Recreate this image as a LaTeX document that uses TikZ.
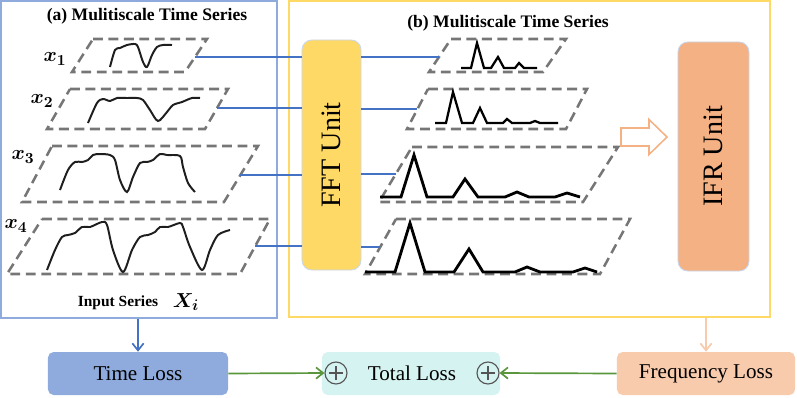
\documentclass[tikz,border=0pt]{standalone}
\usepackage{fontspec}
\setmainfont{Liberation Serif}
\usepackage{bm}
\usepackage{tikz}
\usetikzlibrary{arrows.meta, positioning}
\definecolor{cblue}{RGB}{68, 114, 196}
\definecolor{clightblue}{RGB}{143, 170, 220}
\definecolor{cyellow}{RGB}{255, 217, 102}
\definecolor{corange}{RGB}{244, 177, 131}
\definecolor{clightorange}{RGB}{248, 203, 173}
\definecolor{ccyan}{RGB}{213, 243, 240}
\definecolor{cgreen}{RGB}{90, 150, 60}
\definecolor{cgray}{RGB}{118, 118, 118}
\definecolor{cdark}{RGB}{85, 85, 85}
\definecolor{cedge}{RGB}{200, 215, 240}
\definecolor{ccurve}{RGB}{30, 30, 30}

\begin{document}
\begin{tikzpicture}[
  x=0.025cm, y=-0.025cm,
  frame/.style={rectangle, line width=1.4pt},
  title/.style={font=\fontsize{12.5}{14}\selectfont\bfseries},
  unit/.style={rectangle, rounded corners=7pt, draw=cedge, line width=0.6pt, font=\fontsize{20}{22}\selectfont},
  loss/.style={rectangle, rounded corners=4pt, minimum width=4.45cm, minimum height=1.075cm, font=\fontsize{15}{17}\selectfont},
  plane/.style={draw=cgray, line width=1.8pt, dash pattern=on 7pt off 4pt},
  series/.style={ccurve, line width=1.4pt},
  spec/.style={black, line width=1.6pt, line join=miter},
  xlabel/.style={font=\fontsize{15}{17}\selectfont},
  link/.style={cblue, line width=1pt},
  oplus/.style={circle, draw=cdark, line width=0.8pt, minimum size=0.55cm, inner sep=0pt,
    path picture={\draw[cdark, line width=0.8pt]
      ([xshift=-0.18cm]path picture bounding box.center) -- ([xshift=0.18cm]path picture bounding box.center)
      ([yshift=-0.18cm]path picture bounding box.center) -- ([yshift=0.18cm]path picture bounding box.center);}},
  arrow/.style={-{Straight Barb[length=5pt, width=8pt]}, line width=1.2pt},
]
\useasboundingbox (0,0) rectangle (797,397);

% ---- Frames ----
\node[frame, draw=clightblue, minimum width=6.9cm, minimum height=7.925cm] (lframe) at (139,159.5) {};
\node[frame, draw=cyellow, minimum width=12.025cm, minimum height=7.9cm] (rframe) at (529.5,159) {};

\node[title] (ltitle) at (147,16) {(a) Mulitiscale Time Series};
\node[title] (rtitle) at (508,23) {(b) Mulitiscale Time Series};

% ---- Input series (left) ----
\draw[plane] (93,39) -- (207,39) -- (185,72) -- (72,72) -- cycle;
\draw[plane] (70,89) -- (228,89) -- (205,129) -- (47,129) -- cycle;
\draw[plane] (52,146) -- (258,146) -- (224,202) -- (22,202) -- cycle;
\draw[plane] (42,219) -- (270,219) -- (240,274) -- (7,274) -- cycle;

\node[xlabel] (lab1) at (55,59) {$\bm{x_1}$};
\node[xlabel] (lab2) at (42,101) {$\bm{x_2}$};
\node[xlabel] (lab3) at (23,157) {$\bm{x_3}$};
\node[xlabel] (lab4) at (16,226) {$\bm{x_4}$};

\draw[series] plot[smooth, tension=0.5] coordinates {(110,67) (115,50) (120,48) (127,45) (135,44) (138,47)
  (143,62) (147,67) (152,55) (157,47) (163,45) (172,45)};
\draw[series] plot[smooth, tension=0.5] coordinates {(88,123) (97,103) (103,99) (110,101) (117,98) (127,98)
  (137,98) (143,100) (150,110) (158,121) (167,112) (173,105) (182,102) (192,98) (200,98)};
\draw[series] plot[smooth, tension=0.5] coordinates {(60,190) (68,170) (75,162) (82,162) (88,160) (93,155)
  (100,154) (110,155) (115,160) (120,180) (127,192) (133,177) (140,163) (147,162) (153,160) (160,154)
  (167,155) (180,156) (183,167) (188,183) (195,192)};
\draw[series] plot[smooth, tension=0.5] coordinates {(47,270) (55,250) (62,237) (68,235) (75,233) (82,227)
  (90,227) (102,222) (107,225) (113,250) (123,272) (132,250) (140,237) (148,235) (155,232) (160,227)
  (168,227) (180,223) (183,227) (190,247) (202,270) (210,250) (218,235) (230,230)};

\node[font=\fontsize{11}{13}\selectfont\bfseries] (inlabel) at (118,303) {Input Series};
\node[xlabel] (xi) at (186,302) {$\bm{X_i}$};

% ---- Spectra (right) ----
\draw[plane] (451,39) -- (566,39) -- (543,72) -- (429,72) -- cycle;
\draw[plane] (428,89) -- (587,89) -- (566,129) -- (407,129) -- cycle;
\draw[plane] (412,147) -- (618,147) -- (583,202) -- (379,202) -- cycle;
\draw[plane] (396,219) -- (630,219) -- (600,274) -- (365,274) -- cycle;

\draw[spec] (461,68) -- (471,68) -- (477,43) -- (484,68) -- (491,68) -- (498,57) -- (504,68) -- (515,68)
  -- (519,63) -- (524,68) -- (537,68);
\draw[spec] (435,123) -- (446,123) -- (453,92) -- (462,123) -- (473,123) -- (480,108) -- (487,123)
  -- (503,123) -- (507,119) -- (512,123) -- (530,123) -- (535,121) -- (540,123) -- (558,123);
\draw[spec, line width=2pt] (380,197) -- (401,197) -- (414,155) -- (427,197) -- (453,197) -- (465,179)
  -- (478,197) -- (505,197) -- (517,192) -- (529,197) -- (555,197) -- (567,193) -- (580,197);
\draw[spec, line width=2pt] (365,272) -- (395,272) -- (410,223) -- (425,272) -- (454,272) -- (469,249)
  -- (483,272) -- (515,272) -- (527,267) -- (540,272) -- (573,272) -- (585,268) -- (597,272);

% ---- Units ----
\node[unit, fill=cyellow, minimum width=1.475cm, minimum height=5.75cm] (fft) at (331.5,155) {\rotatebox{90}{FFT Unit}};
\node[unit, fill=corange, minimum width=1.775cm, minimum height=5.725cm] (ifr) at (713.5,156.5) {\rotatebox{90}{IFR Unit}};

\draw[corange, line width=1.1pt, fill=white] (621,128) -- (649,128) -- (649,119.5) -- (667,137)
  -- (649,154.5) -- (649,146) -- (621,146) -- cycle;

% ---- Blue links ----
\coordinate (in1) at (195,57);
\coordinate (in2) at (217,108);
\coordinate (in3) at (240,175);
\coordinate (in4) at (255,246);
\coordinate (out1) at (439,57);
\coordinate (out2) at (417,109);
\coordinate (out3) at (396,174);
\coordinate (out4) at (380,247);

\draw[link] (in1) -- (in1 -| fft.west);
\draw[link] (in2) -- (in2 -| fft.west);
\draw[link] (in3) -- (in3 -| fft.west);
\draw[link] (in4) -- (in4 -| fft.west);
\draw[link] (fft.east |- out1) -- (out1);
\draw[link] (fft.east |- out2) -- (out2);
\draw[link] (fft.east |- out3) -- (out3);
\draw[link] (fft.east |- out4) -- (out4);

% ---- Losses ----
\node[loss, fill=clightblue, minimum width=4.5cm] (tloss) at (138,373.5) {Time Loss};
\node[loss, fill=ccyan] (total) at (411,373.5) {\hspace{0.05cm}Total Loss};
\node[loss, fill=clightorange] (floss) at (706,373.5) {Frequency Loss};

\node[oplus] (plusa) at (336,373) {};
\node[oplus] (plusb) at (488,373) {};

\draw[arrow, cblue] (tloss.north |- lframe.south) -- (tloss.north);
\draw[arrow, clightorange] (floss.north |- rframe.south) -- (floss.north);
\draw[arrow, cgreen] (tloss.east) -- (plusa.west);
\draw[arrow, cgreen] (floss.west) -- (plusb.east);

\end{tikzpicture}
\end{document}
